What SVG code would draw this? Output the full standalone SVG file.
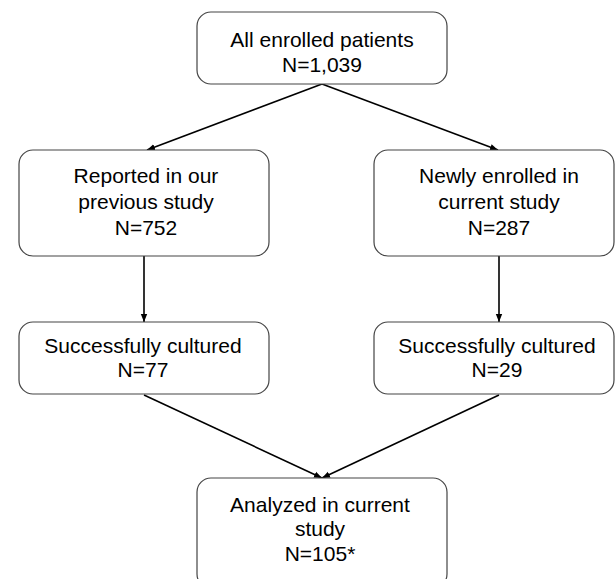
<svg xmlns="http://www.w3.org/2000/svg" width="615" height="579" viewBox="0 0 615 579">
<style>
.box{fill:#fff;stroke:#444;stroke-width:1.2}
.t{font-family:"Liberation Sans",Arial,sans-serif;font-size:21px;fill:#000;text-anchor:middle}
.c{stroke:#000;stroke-width:1.6;fill:none;marker-end:url(#ah)}
</style>
<defs>
<marker id="ah" viewBox="0 0 10 10" refX="10" refY="5" markerWidth="5" markerHeight="5" orient="auto" markerUnits="strokeWidth">
<path d="M0,1 L10,5 L0,9 z" fill="#000"/>
</marker>
</defs>
<rect width="615" height="579" fill="#fff"/>
<g id="connectors">
<line class="c" x1="322" y1="84" x2="147" y2="150"/>
<line class="c" x1="322" y1="84" x2="498" y2="150"/>
<line class="c" x1="144" y1="256" x2="144" y2="322"/>
<line class="c" x1="499" y1="256" x2="499" y2="322"/>
<line class="c" x1="144" y1="395" x2="322" y2="478"/>
<line class="c" x1="499" y1="395" x2="322" y2="478"/>
</g>
<g id="n1">
<rect class="box" x="197" y="12" width="250" height="72" rx="14"/>
<text class="t" x="322" y="47">All enrolled patients</text>
<text class="t" x="322" y="72">N=1,039</text>
</g>
<g id="n2">
<rect class="box" x="19" y="150" width="250" height="106" rx="14"/>
<text class="t" x="146" y="183">Reported in our</text>
<text class="t" x="146" y="209">previous study</text>
<text class="t" x="146" y="235">N=752</text>
</g>
<g id="n3">
<rect class="box" x="374" y="150" width="240" height="106" rx="14"/>
<text class="t" x="499" y="183">Newly enrolled in</text>
<text class="t" x="499" y="209">current study</text>
<text class="t" x="499" y="235">N=287</text>
</g>
<g id="n4">
<rect class="box" x="19" y="322" width="250" height="72" rx="14"/>
<text class="t" x="143" y="353">Successfully cultured</text>
<text class="t" x="143" y="377">N=77</text>
</g>
<g id="n5">
<rect class="box" x="374" y="322" width="240" height="72" rx="14"/>
<text class="t" x="497" y="353">Successfully cultured</text>
<text class="t" x="497" y="377">N=29</text>
</g>
<g id="n6">
<rect class="box" x="197" y="478" width="250" height="110" rx="14"/>
<text class="t" x="320" y="512">Analyzed in current</text>
<text class="t" x="320" y="536">study</text>
<text class="t" x="320" y="561">N=105*</text>
</g>
</svg>
